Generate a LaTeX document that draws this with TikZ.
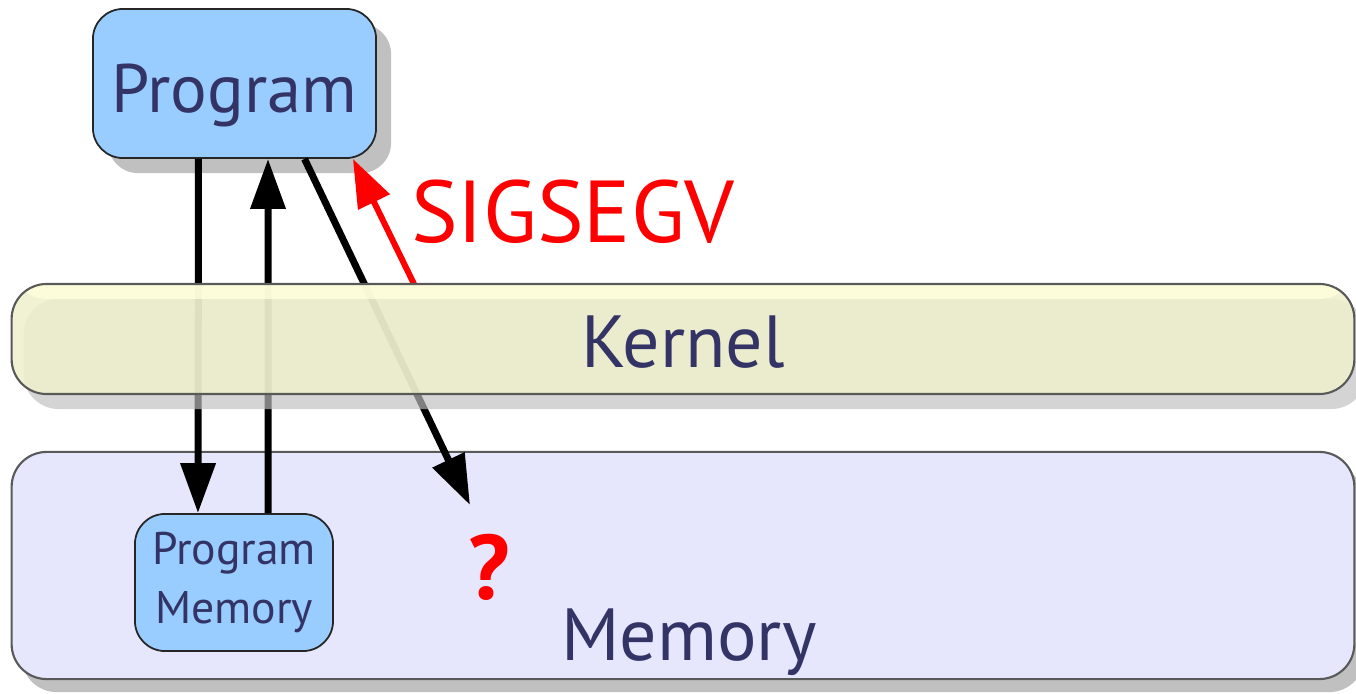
\documentclass[tikz,border=0pt]{standalone}
\usepackage{fontspec}
\setmainfont{PT Sans}
\usepackage{tikz}
\usetikzlibrary{arrows.meta, positioning, shadows}
\definecolor{pgBlue}{RGB}{153,204,255}
\definecolor{pgNavy}{RGB}{51,51,102}
\definecolor{pgKernel}{RGB}{239,239,205}
\definecolor{pgKernelTop}{RGB}{255,255,221}
\definecolor{pgMemory}{RGB}{230,230,253}
\definecolor{pgShadow}{RGB}{192,192,192}

\begin{document}
\begin{tikzpicture}[x=0.01cm, y=-0.01cm,
    proc/.style={draw=black!85, line width=0.5pt, fill=pgBlue, rounded corners=0.3cm, text=pgNavy, inner sep=0pt},
    band/.style={draw=black!65, line width=0.6pt, rounded corners=0.35cm, text=pgNavy, inner sep=0pt},
    boxshadow/.style={drop shadow={shadow xshift=#1, shadow yshift=-#1, fill=pgShadow, opacity=1}},
    flow/.style={line width=0.07cm, -{Triangle[length=0.5cm, width=0.34cm]}},
    alarm/.style={text=red, font=\fontsize{25}{29}\selectfont}
  ]
    \useasboundingbox (0,0) rectangle (1356,694);
    \node[band, fill=pgMemory, minimum width=13.42cm, minimum height=2.27cm,
      drop shadow={shadow xshift=0.1cm, shadow yshift=-0.13cm, fill=pgShadow, opacity=1}] (mem) at (683,565.5) {};
    \node[text=pgNavy, font=\fontsize{21}{25}\selectfont, anchor=base] (memtxt) at (689,660) {Memory};
    \node[proc, minimum width=1.98cm, minimum height=1.37cm, align=center, font=\fontsize{13}{17}\selectfont] (pmem) at (234,582.5) {\raisebox{-0.06cm}{Program}\\\raisebox{-0.06cm}{Memory}};
    \node[text=red, font=\bfseries\fontsize{26}{30}\selectfont] (qm) at (489,567) {?};
    \node[proc, boxshadow=0.15cm, minimum width=2.83cm, minimum height=1.49cm,
      font=\fontsize{19.5}{24}\selectfont, text height=0.57cm, text depth=0pt] (prog) at (234.5,83.5) {Program};
    \coordinate (hit) at (470,505);
    \draw[flow] ([xshift=-0.36cm]prog.south) -- ([xshift=-0.36cm]pmem.north);
    \draw[flow] ([xshift=0.34cm]pmem.north) -- ([xshift=0.335cm]prog.south);
    \draw[flow] ([xshift=0.7cm]prog.south) -- (hit);
    \node[alarm, anchor=base] (sig) at (573,242) {SIGSEGV};
    \coordinate (kstart) at (414,284);
    \draw[red, line width=0.06cm, -{Triangle[length=0.48cm, width=0.34cm]}] (kstart) -- ([xshift=-0.24cm]prog.south east);
    % kernel lies over the arrows
    \node[band, fill=pgKernel, fill opacity=0.85, text opacity=1, minimum width=13.42cm, minimum height=1.1cm,
      font=\fontsize{21}{25}\selectfont, text height=0.56cm, text depth=0pt,
      drop shadow={shadow xshift=0.12cm, shadow yshift=-0.15cm, fill=black!25, opacity=0.67},
      path picture={\fill[pgKernelTop] (path picture bounding box.north west) rectangle ([yshift=-0.15cm]path picture bounding box.north east);}] (kern) at (683,339) {Kernel};
\end{tikzpicture}
\end{document}
